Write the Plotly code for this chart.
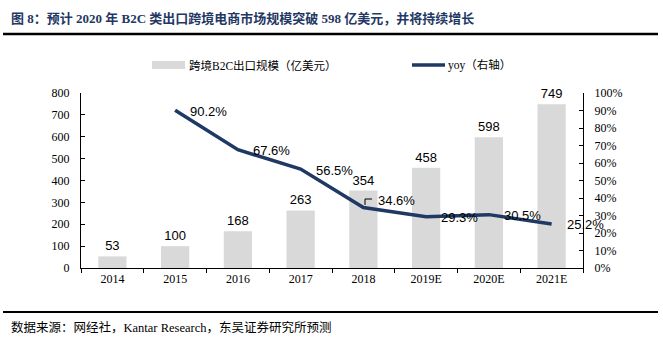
import plotly.graph_objects as go

# Data
years = ["2014", "2015", "2016", "2017", "2018", "2019E", "2020E", "2021E"]
scale = [53, 100, 168, 263, 354, 458, 598, 749]          # 跨境B2C出口规模（亿美元）
yoy_years = ["2015", "2016", "2017", "2018", "2019E", "2020E", "2021E"]
yoy = [90.2, 67.6, 56.5, 34.6, 29.3, 30.5, 25.2]          # yoy（%）
left_ticks = [0, 100, 200, 300, 400, 500, 600, 700, 800]
right_ticks = [0, 10, 20, 30, 40, 50, 60, 70, 80, 90, 100]

NAVY = "#1f3864"
GRAY = "#d9d9d9"
SERIF = "Liberation Serif, Times New Roman, Noto Sans CJK SC, serif"
SANS = "Liberation Sans, Arial, sans-serif"
CJK = "Liberation Serif, Noto Sans CJK SC, serif"

W, H = 663, 345
L, R, T, B = 81, 80, 93, 77
PW, PH = W - L - R, H - T - B


def px(x):
    return (x - L) / PW


def py(y):
    return (H - B - y) / PH


fig = go.Figure()

fig.add_trace(go.Bar(
    x=years, y=scale, name="跨境B2C出口规模（亿美元）",
    marker=dict(color=GRAY, line=dict(width=0)),
    width=0.45,
    text=[str(v) for v in scale], textposition="outside",
    textfont=dict(family=SANS, size=13, color="#000000"),
    cliponaxis=False, showlegend=False,
))

fig.add_trace(go.Scatter(
    x=yoy_years, y=yoy, name="yoy（右轴）", yaxis="y2",
    mode="lines", line=dict(color=NAVY, width=3.5),
    showlegend=False,
))

# yoy value labels, placed just right of each point (x given as category index)
for yr, v in zip(yoy_years, yoy):
    xi = years.index(yr)
    fig.add_annotation(x=xi, y=v, xref="x", yref="y2", text=f"{v:.1f}%",
                       showarrow=False, xanchor="left", yanchor="middle",
                       xshift=13, yshift=7 if yr == "2018" else -1,
                       font=dict(family=SANS, size=13, color="#000000"))

# leader line for the 2018 label
fig.add_shape(type="line", xref="paper", yref="paper",
              x0=px(365), x1=px(365), y0=py(205), y1=py(199),
              line=dict(color="#000000", width=1))
fig.add_shape(type="line", xref="paper", yref="paper",
              x0=px(365), x1=px(372), y0=py(199), y1=py(199),
              line=dict(color="#000000", width=1))

# Title and rules
fig.add_annotation(x=px(9), y=py(18), xref="paper", yref="paper",
                   text="<b>图 8：预计 2020 年 B2C 类出口跨境电商市场规模突破 598 亿美元，并将持续增长</b>",
                   showarrow=False, xanchor="left", yanchor="middle",
                   font=dict(family=CJK, size=13, color=NAVY))
fig.add_shape(type="line", xref="paper", yref="paper",
              x0=px(3), x1=px(658), y0=py(34), y1=py(34),
              line=dict(color="#000000", width=2.5))
fig.add_shape(type="line", xref="paper", yref="paper",
              x0=px(3), x1=px(658), y0=py(312), y1=py(312),
              line=dict(color="#000000", width=2))
fig.add_annotation(x=px(9), y=py(327), xref="paper", yref="paper",
                   text="数据来源：网经社，Kantar Research，东吴证券研究所预测",
                   showarrow=False, xanchor="left", yanchor="middle",
                   font=dict(family=CJK, size=12.5, color="#000000"))

# Legend
fig.add_shape(type="rect", xref="paper", yref="paper",
              x0=px(152), x1=px(185), y0=py(61), y1=py(69),
              fillcolor=GRAY, line=dict(width=0))
fig.add_annotation(x=px(187), y=py(65), xref="paper", yref="paper",
                   text="跨境B2C出口规模（亿美元）", showarrow=False,
                   xanchor="left", yanchor="middle",
                   font=dict(family=CJK, size=11.5, color="#000000"))
fig.add_shape(type="line", xref="paper", yref="paper",
              x0=px(412), x1=px(445), y0=py(65), y1=py(65),
              line=dict(color=NAVY, width=3.5))
fig.add_annotation(x=px(446), y=py(65), xref="paper", yref="paper",
                   text="yoy（右轴）", showarrow=False,
                   xanchor="left", yanchor="middle",
                   font=dict(family=CJK, size=11.5, color="#000000"))

fig.update_layout(
    width=W, height=H,
    margin=dict(l=L, r=R, t=T, b=B, pad=0),
    paper_bgcolor="white", plot_bgcolor="white",
    xaxis=dict(
        type="category", categoryorder="array", categoryarray=years,
        range=[-0.5, len(years) - 0.5],
        showline=True, linecolor="#000000", linewidth=1,
        ticks="outside", ticklen=4, tickcolor="#000000", tickson="boundaries",
        tickangle=0,
        tickfont=dict(family=SERIF, size=12, color="#000000"),
        showgrid=False, zeroline=False,
    ),
    yaxis=dict(
        range=[0, 800], tickvals=left_ticks,
        showline=True, linecolor="#000000", linewidth=1,
        ticks="inside", ticklen=4, tickcolor="#000000",
        tickfont=dict(family=SERIF, size=12, color="#000000"),
        showgrid=False, zeroline=False, ticklabelstandoff=8,
    ),
    yaxis2=dict(
        range=[0, 100], tickvals=right_ticks,
        ticktext=[f"{t}%" for t in right_ticks],
        overlaying="y", side="right",
        showline=True, linecolor="#000000", linewidth=1,
        ticks="inside", ticklen=4, tickcolor="#000000",
        tickfont=dict(family=SERIF, size=12, color="#000000"),
        showgrid=False, zeroline=False, ticklabelstandoff=8,
    ),
)

fig.write_html("out.html")
